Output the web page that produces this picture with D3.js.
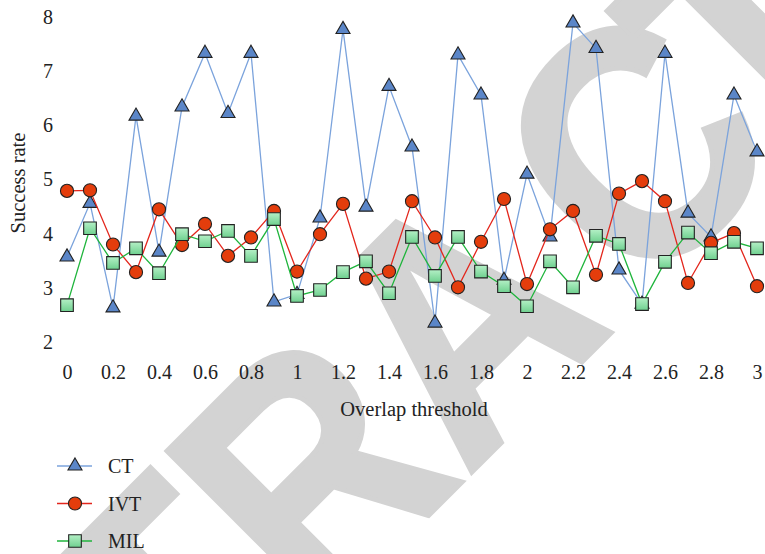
<!DOCTYPE html>
<html><head><meta charset="utf-8">
<script src="https://cdn.jsdelivr.net/npm/d3@7"></script>
<style>body{margin:0;background:#fff}svg{display:block}</style>
</head><body>
<svg id="c" width="765" height="554"></svg>
<script>
const xValues = [0,0.1,0.2,0.3,0.4,0.5,0.6,0.7,0.8,0.9,1,1.1,1.2,1.3,1.4,1.5,1.6,1.7,1.8,1.9,2,2.1,2.2,2.3,2.4,2.5,2.6,2.7,2.8,2.9,3];
const ctValues = [3.57,4.56,2.63,6.17,3.66,6.34,7.33,6.22,7.33,2.74,2.88,4.29,7.77,4.49,6.72,5.6,2.35,7.3,6.56,3.14,5.1,3.94,7.89,7.42,3.33,2.7,7.33,4.38,3.94,6.56,5.51];
const ivtValues = [4.79,4.8,3.8,3.29,4.45,3.79,4.18,3.59,3.93,4.42,3.3,3.99,4.55,3.17,3.3,4.6,3.93,3.01,3.85,4.64,3.07,4.08,4.42,3.24,4.74,4.97,4.6,3.09,3.83,4.01,3.03];
const milValues = [2.68,4.1,3.46,3.73,3.27,3.99,3.86,4.05,3.59,4.27,2.85,2.96,3.29,3.49,2.9,3.94,3.22,3.94,3.3,3.03,2.66,3.49,3.01,3.96,3.81,2.7,3.48,4.02,3.64,3.85,3.73];
const xTicks = [0,0.2,0.4,0.6,0.8,1,1.2,1.4,1.6,1.8,2,2.2,2.4,2.6,2.8,3];
const yTicks = [2,3,4,5,6,7,8];
const seriesNames = ["CT","IVT","MIL"];

const svg = d3.select("#c");
const font = "'Liberation Serif','Times New Roman',serif";

// watermark
const wm = svg.append("text")
  .attr("transform","translate(541.7,402.3) rotate(-45) scale(0.88,1)")
  .attr("text-anchor","middle")
  .attr("font-family","'Liberation Sans',Arial,sans-serif").attr("font-weight","bold")
  .attr("font-size",335).attr("fill","#d3d3d3")
  .attr("stroke","#d3d3d3").attr("stroke-width",5);
wm.append("tspan").text("RETRA");
wm.append("tspan").attr("dx",38).text("C");
wm.append("tspan").attr("dx",-38).text("TED");

const x = d3.scaleLinear().domain([0,3]).range([67,757]);
const y = d3.scaleLinear().domain([2,8]).range([342,17]);

const defs = svg.append("defs");
const g = defs.append("linearGradient").attr("id","gsq").attr("x1",0).attr("y1",0).attr("x2",0).attr("y2",1);
g.append("stop").attr("offset","0%").attr("stop-color","#b4f0c6");
g.append("stop").attr("offset","100%").attr("stop-color","#6fd08f");

const xAxis = svg.append("g").attr("transform","translate(0,360)")
  .call(d3.axisBottom(x).tickValues(xTicks).tickFormat(d3.format("~g")).tickSize(0).tickPadding(0));
xAxis.select(".domain").remove();
xAxis.selectAll("text").attr("font-family",font).attr("font-size",20).attr("fill","#222").attr("dy","0.71em").attr("y",5);

const yAxis = svg.append("g").attr("transform","translate(53,0)")
  .call(d3.axisLeft(y).tickValues(yTicks).tickFormat(d3.format("d")).tickSize(0).tickPadding(0));
yAxis.select(".domain").remove();
yAxis.selectAll("text").attr("font-family",font).attr("font-size",20).attr("fill","#222");

svg.append("text").attr("x",414).attr("y",416).attr("text-anchor","middle")
  .attr("font-family",font).attr("font-size",20.5).attr("fill","#222").text("Overlap threshold");
svg.append("text").attr("transform","translate(25,183) rotate(-90)").attr("text-anchor","middle")
  .attr("font-family",font).attr("font-size",20.5).attr("fill","#222").text("Success rate");

const series = [
  {name:seriesNames[0], vals:ctValues, line:"#7ba3dc", fill:"#5b86c8", sym:d3.symbolTriangle, size:85},
  {name:seriesNames[1], vals:ivtValues, line:"#e3261c", fill:"#e43d0c", sym:d3.symbolCircle, size:135},
  {name:seriesNames[2], vals:milValues, line:"#1fb53c", fill:"url(#gsq)", sym:d3.symbolSquare, size:160}
];
const line = d3.line().x((d,i)=>x(xValues[i])).y(d=>y(d));
series.forEach(s=>{
  svg.append("path").datum(s.vals).attr("d",line).attr("fill","none").attr("stroke",s.line).attr("stroke-width",1.3);
  svg.append("g").selectAll("path").data(s.vals).join("path")
    .attr("transform",(d,i)=>`translate(${x(xValues[i])},${y(d)})`)
    .attr("d",d3.symbol().type(s.sym).size(s.size))
    .attr("fill",s.fill).attr("stroke","#222").attr("stroke-width",1.1);
});

// legend
const leg = svg.append("g");
series.forEach((s,i)=>{
  const yy = 466 + i*37.5;
  leg.append("line").attr("x1",57).attr("x2",92).attr("y1",yy).attr("y2",yy).attr("stroke",s.line).attr("stroke-width",1.3);
  leg.append("path").attr("transform",`translate(75,${yy})`).attr("d",d3.symbol().type(s.sym).size(s.size))
    .attr("fill",s.fill).attr("stroke","#222").attr("stroke-width",1.1);
  leg.append("text").attr("x",108).attr("y",yy).attr("dy","0.35em")
    .attr("font-family",font).attr("font-size",20).attr("fill","#222").text(s.name);
});
</script>
</body></html>
